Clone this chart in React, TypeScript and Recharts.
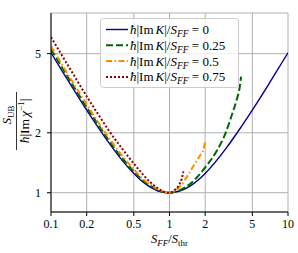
import { LineChart, Line, XAxis, YAxis, CartesianGrid } from "recharts";

const X_TICKS = [0.1, 0.2, 0.5, 1, 2, 5, 10];
const Y_TICKS = [1, 2, 5];

// hbar|Im K|/S_FF = 0
const K0_X = [0.1, 0.12, 0.15, 0.2, 0.25, 0.3, 0.4, 0.5, 0.6, 0.7, 0.8, 0.9, 1, 1.2, 1.5, 2, 3, 4, 5, 7, 10];
const K0_Y = [5.05, 4.23, 3.41, 2.6, 2.13, 1.82, 1.45, 1.25, 1.13, 1.06, 1.02, 1.006, 1.0, 1.017, 1.083, 1.25, 1.67, 2.13, 2.6, 3.57, 5.05];

// = 0.25
const K25_X = [0.1, 0.12, 0.15, 0.2, 0.25, 0.3, 0.4, 0.5, 0.6, 0.7, 0.8, 0.9, 1, 1.2, 1.5, 2, 2.5, 3, 3.35, 3.7, 3.9, 4.02];
const K25_Y = [5.25, 4.4, 3.53, 2.69, 2.2, 1.87, 1.49, 1.28, 1.15, 1.08, 1.03, 1.007, 1.0, 1.025, 1.11, 1.34, 1.62, 2.02, 2.45, 2.95, 3.35, 3.83];

// = 0.5
const K50_X = [0.1, 0.12, 0.15, 0.2, 0.25, 0.3, 0.4, 0.5, 0.6, 0.7, 0.8, 0.9, 1, 1.2, 1.4, 1.6, 1.8, 1.93, 2.0];
const K50_Y = [5.45, 4.55, 3.65, 2.78, 2.26, 1.93, 1.53, 1.31, 1.17, 1.09, 1.04, 1.01, 1.0, 1.06, 1.2, 1.37, 1.53, 1.64, 1.82];

// = 0.75
const K75_X = [0.1, 0.12, 0.15, 0.2, 0.25, 0.3, 0.4, 0.5, 0.6, 0.7, 0.8, 0.9, 1, 1.1, 1.2, 1.27, 1.31];
const K75_Y = [6.05, 5.05, 4.05, 3.05, 2.48, 2.1, 1.66, 1.4, 1.23, 1.12, 1.05, 1.01, 1.0, 1.03, 1.09, 1.18, 1.28];

const zip = (xs: number[], ys: number[]) => xs.map((x, i) => ({ x, y: ys[i] }));

const SERIES = [
  { key: "0", label: "0", data: zip(K0_X, K0_Y), color: "#00008b", width: 1.4, dash: undefined },
  { key: "25", label: "0.25", data: zip(K25_X, K25_Y), color: "#006400", width: 2, dash: "7 3" },
  { key: "50", label: "0.5", data: zip(K50_X, K50_Y), color: "#ff8c00", width: 2, dash: "6 2.5 1.5 2.5" },
  { key: "75", label: "0.75", data: zip(K75_X, K75_Y), color: "#8b0000", width: 2, dash: "2 2" },
];

const FONT = "Liberation Serif, DejaVu Serif, serif";
const tickStyle = { fontSize: 12, fill: "#000", fontFamily: FONT };

function LegendBox() {
  return (
    <svg width={140} height={71} style={{ position: "absolute", left: 100, top: 18 }}>
      <rect x={0.5} y={0.5} width={138} height={69} rx={3} fill="rgba(255,255,255,0.8)" stroke="#cccccc" />
      {SERIES.map((s, i) => {
        const y = 11.5 + i * 15.8;
        return (
          <g key={s.key}>
            <line x1={6} x2={28} y1={y} y2={y} stroke={s.color} strokeWidth={s.width} strokeDasharray={s.dash} />
            <text x={30} y={y + 4.5} fontFamily={FONT} fontSize={13} fill="#000">
              <tspan fontStyle="italic">ħ</tspan>|Im<tspan fontStyle="italic" dx={2}>K</tspan>|/<tspan fontStyle="italic">S</tspan>
              <tspan fontStyle="italic" fontSize={9.5} dy={3}>FF</tspan>
              <tspan dy={-3}> = {s.label}</tspan>
            </text>
          </g>
        );
      })}
    </svg>
  );
}

function AxisLabels() {
  return (
    <svg width={298} height={253} style={{ position: "absolute", left: 0, top: 0, pointerEvents: "none" }}>
      <g transform="translate(11,115) rotate(-90)">
        <text x={0} y={0} textAnchor="middle" fontFamily={FONT} fontSize={13} fill="#000">
          <tspan fontStyle="italic">S</tspan>
          <tspan fontSize={9} dy={3}>UB</tspan>
        </text>
      </g>
      <line x1={16.5} x2={16.5} y1={92} y2={150} stroke="#000" strokeWidth={0.8} />
      <g transform="translate(29,121) rotate(-90)">
        <text x={0} y={0} textAnchor="middle" fontFamily={FONT} fontSize={13.5} fill="#000">
          <tspan fontStyle="italic">ħ</tspan>|Im<tspan fontStyle="italic" dx={2}>χ</tspan>
          <tspan fontSize={9} dy={-5}>−1</tspan>
          <tspan dy={5}>|</tspan>
        </text>
      </g>
      <text x={169.5} y={243} textAnchor="middle" fontFamily={FONT} fontSize={12.5} fill="#000">
        <tspan fontStyle="italic">S</tspan>
        <tspan fontStyle="italic" fontSize={9} dy={2.5}>FF</tspan>
        <tspan dy={-2.5}>/</tspan>
        <tspan fontStyle="italic">S</tspan>
        <tspan fontSize={9} dy={2.5}>thr</tspan>
      </text>
    </svg>
  );
}

export default function App() {
  return (
    <div style={{ position: "absolute", left: 0, top: 0, width: 298, height: 253, background: "#fff" }}>
      <LineChart width={298} height={253} margin={{ top: 13, right: 10, bottom: 0, left: 0 }}>
        <CartesianGrid xAxisId="b" yAxisId="l" stroke="#b0b0b0" strokeWidth={1} />
        <XAxis
          xAxisId="b"
          dataKey="x"
          type="number"
          scale="log"
          domain={[0.1, 10]}
          allowDataOverflow
          ticks={X_TICKS}
          height={41}
          tick={tickStyle}
          tickSize={4}
          tickMargin={3}
          tickLine={{ stroke: "#000" }}
          axisLine={{ stroke: "#000", strokeWidth: 1 }}
        />
        <XAxis
          xAxisId="t"
          orientation="top"
          type="number"
          scale="log"
          domain={[0.1, 10]}
          height={0}
          tick={false}
          tickLine={false}
          axisLine={{ stroke: "#000", strokeWidth: 1 }}
        />
        <YAxis
          yAxisId="l"
          type="number"
          scale="log"
          domain={[0.8, 8]}
          allowDataOverflow
          ticks={Y_TICKS}
          width={51}
          tick={tickStyle}
          tickSize={4}
          tickMargin={6}
          tickLine={{ stroke: "#000" }}
          axisLine={{ stroke: "#000", strokeWidth: 1 }}
        />
        <YAxis
          yAxisId="r"
          orientation="right"
          type="number"
          scale="log"
          domain={[0.8, 8]}
          width={0}
          tick={false}
          tickLine={false}
          axisLine={{ stroke: "#000", strokeWidth: 1 }}
        />
        {SERIES.map((s) => (
          <Line
            key={s.key}
            xAxisId="b"
            yAxisId="l"
            data={s.data}
            dataKey="y"
            type="monotone"
            stroke={s.color}
            strokeWidth={s.width}
            strokeDasharray={s.dash}
            dot={false}
            activeDot={false}
            isAnimationActive={false}
          />
        ))}
      </LineChart>
      <LegendBox />
      <AxisLabels />
    </div>
  );
}
